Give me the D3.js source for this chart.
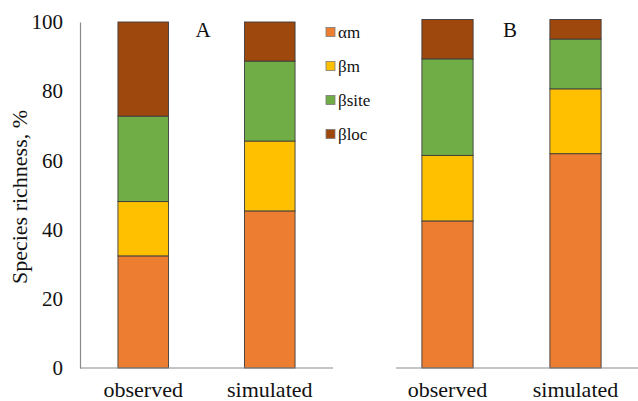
<!DOCTYPE html>
<html>
<head>
<meta charset="utf-8">
<script src="https://cdn.jsdelivr.net/npm/d3@7"></script>
<style>
  html, body { margin: 0; padding: 0; background: #fff; }
  svg { display: block; }
  svg text { font-family: 'Liberation Serif', 'Times New Roman', Times, 'DejaVu Serif', serif; }
</style>
</head>
<body>
<svg id="chart" width="638" height="401"></svg>
<script>
// Partition of species richness (%), stacked from αm at the bottom to βloc on top
const categories = ["observed", "simulated"];
const components = ["αm", "βm", "βsite", "βloc"];
const colors = ["#ED7D31", "#FFC000", "#70AD47", "#9E480E"];

const panelA_am    = [32.4, 45.4];
const panelA_bm    = [15.7, 20.2];
const panelA_bsite = [24.7, 23.1];
const panelA_bloc  = [27.2, 11.3];

const panelB_am    = [42.2, 61.5];
const panelB_bm    = [18.8, 18.6];
const panelB_bsite = [27.7, 14.3];
const panelB_bloc  = [11.3, 5.6];

const yTicks = [0, 20, 40, 60, 80, 100];

const FONT = "'Liberation Serif', 'Times New Roman', Times, 'DejaVu Serif', serif";

const svg = d3.select("#chart");

function rows(am, bm, bsite, bloc) {
  return categories.map((c, i) => ({
    cat: c, "αm": am[i], "βm": bm[i], "βsite": bsite[i], "βloc": bloc[i]
  }));
}

const stack = d3.stack().keys(components);
const color = d3.scaleOrdinal().domain(components).range(colors);

function drawPanel(opts) {
  const x = d3.scaleBand().domain(categories).range(opts.xRange)
    .paddingInner(0.6).paddingOuter(0.3);
  const y = d3.scaleLinear().domain([0, 100]).range(opts.yRange);
  const g = svg.append("g");

  const series = stack(opts.data);
  g.selectAll("g.layer").data(series).join("g")
    .attr("class", "layer")
    .attr("fill", d => color(d.key))
    .selectAll("rect").data(d => d).join("rect")
      .attr("x", d => x(d.data.cat))
      .attr("width", x.bandwidth())
      .attr("y", d => y(d[1]))
      .attr("height", d => y(d[0]) - y(d[1]))
      .attr("stroke", "#3d3d3d")
      .attr("stroke-width", 0.9);

  // baseline
  g.append("line")
    .attr("x1", opts.base[0]).attr("x2", opts.base[1])
    .attr("y1", y(0)).attr("y2", y(0))
    .attr("stroke", "#8a8a8a").attr("stroke-width", 1.2);

  // category labels
  g.selectAll("text.cat").data(categories).join("text")
    .attr("class", "cat")
    .attr("x", d => x(d) + x.bandwidth() / 2)
    .attr("y", 397)
    .attr("text-anchor", "middle")
    .attr("font-family", FONT)
    .attr("font-size", 22)
    .attr("fill", "#111")
    .text(d => d);

  // panel letter
  g.append("text")
    .attr("x", opts.letterX).attr("y", 37)
    .attr("text-anchor", "middle")
    .attr("font-family", FONT)
    .attr("font-size", 21)
    .attr("fill", "#111")
    .text(opts.letter);

  return { x, y, g };
}

// Panel A with the value axis
const A = drawPanel({
  data: rows(panelA_am, panelA_bm, panelA_bsite, panelA_bloc),
  xRange: [80, 333], yRange: [368, 22], base: [80, 333],
  letter: "A", letterX: 203
});

const yAxis = d3.axisLeft(A.y).tickValues(yTicks).tickSize(0).tickPadding(17);
const ax = svg.append("g").attr("transform", "translate(80,0)").call(yAxis)
  .attr("font-family", FONT);
ax.select(".domain").attr("stroke", "#8a8a8a").attr("stroke-width", 1.2);
ax.selectAll("text")
  .attr("font-family", FONT)
  .attr("font-size", 21)
  .attr("fill", "#111");

svg.append("text")
  .attr("transform", "translate(27,197) rotate(-90)")
  .attr("text-anchor", "middle")
  .attr("font-family", FONT)
  .attr("font-size", 22)
  .attr("fill", "#111")
  .text("Species richness, %");

// Panel B
drawPanel({
  data: rows(panelB_am, panelB_bm, panelB_bsite, panelB_bloc),
  xRange: [383.5, 639.5], yRange: [368, 19.5], base: [396, 638],
  letter: "B", letterX: 510
});

// Legend
const legend = svg.append("g");
const items = legend.selectAll("g").data(components).join("g")
  .attr("transform", (d, i) => `translate(326, ${32 + i * 34})`);
items.append("rect")
  .attr("x", 0).attr("y", -4.5).attr("width", 9).attr("height", 9)
  .attr("fill", d => color(d))
  .attr("stroke", "#7a7a7a").attr("stroke-width", 0.8);
items.append("text")
  .attr("x", 12).attr("y", 0).attr("dy", "0.35em")
  .attr("font-family", FONT)
  .attr("font-size", 17)
  .attr("fill", "#111")
  .text(d => d);
</script>
</body>
</html>
